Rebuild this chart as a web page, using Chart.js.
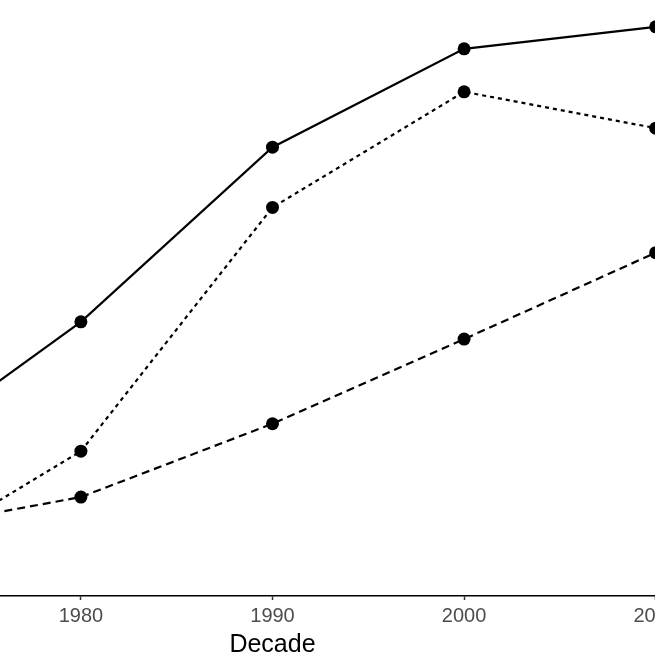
<!DOCTYPE html>
<html>
<head>
    <title>Decade Chart</title>
    <script src="https://cdn.jsdelivr.net/npm/chart.js"></script>
    <style>
        html, body { margin: 0; padding: 0; background: #fff; }
        #frame { position: relative; width: 655px; height: 655px; overflow: hidden; }
        #wrap { position: absolute; left: -149px; top: 0; width: 843px; height: 655px; }
    </style>
</head>
<body>
    <div id="frame"><div id="wrap"><canvas id="decadeChart"></canvas></div></div>

    <script>
        // decades on the x axis
        const decades = [1970, 1980, 1990, 2000, 2010];
        // three series (hidden y axis, 0-100)
        const solidValues  = [22.7, 46.0, 75.3, 91.8, 95.5];
        const dottedValues = [4.9, 24.3, 65.2, 84.6, 78.5];
        const dashedValues = [10.7, 16.6, 28.9, 43.1, 57.6];
        const tickDecades = [1970, 1980, 1990, 2000, 2010];

        function series(label, values, dash) {
            return {
                label: label,
                data: decades.map((d, i) => ({ x: d, y: values[i] })),
                borderColor: 'black',
                backgroundColor: 'black',
                borderWidth: 2.2,
                borderDash: dash,
                pointRadius: 6.5,
                pointHoverRadius: 6.5,
                pointBorderWidth: 0,
                tension: 0,
                clip: false
            };
        }

        const ctx = document.getElementById('decadeChart').getContext('2d');
        const chart = new Chart(ctx, {
            type: 'line',
            data: {
                datasets: [
                    series('Solid', solidValues, []),
                    series('Dotted', dottedValues, [4, 4]),
                    series('Dashed', dashedValues, [8, 5])
                ]
            },
            options: {
                responsive: true,
                maintainAspectRatio: false,
                animation: false,
                layout: { padding: 0, autoPadding: false },
                plugins: {
                    legend: { display: false },
                    tooltip: { enabled: false }
                },
                scales: {
                    x: {
                        type: 'linear',
                        min: 1968,
                        max: 2012,
                        afterBuildTicks: axis => {
                            axis.ticks = tickDecades.map(v => ({ value: v }));
                        },
                        grid: {
                            drawOnChartArea: false,
                            drawTicks: true,
                            tickLength: 4,
                            tickColor: '#333333',
                            tickWidth: 1.5
                        },
                        border: { display: true, color: 'black', width: 1.5 },
                        ticks: {
                            padding: 6,
                            color: '#4d4d4d',
                            font: { family: 'Liberation Sans', size: 20, lineHeight: 1 },
                            callback: v => String(v),
                            maxRotation: 0
                        },
                        title: {
                            display: true,
                            text: 'Decade',
                            color: 'black',
                            font: { family: 'Liberation Sans', size: 25, lineHeight: 1 },
                            padding: { top: 1, bottom: -3 }
                        }
                    },
                    y: {
                        display: false,
                        min: 0,
                        max: 100
                    }
                }
            }
        });
    </script>
</body>
</html>
